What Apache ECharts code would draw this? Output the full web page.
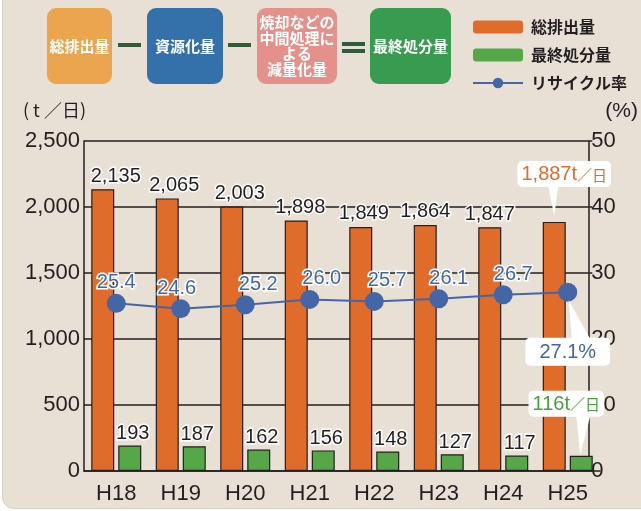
<!DOCTYPE html>
<html>
<head>
<meta charset="utf-8">
<script src="https://cdn.jsdelivr.net/npm/echarts@6/dist/echarts.min.js"></script>
<style>
  html, body { margin: 0; padding: 0; background: #fff; }
  #panel {
    position: absolute; left: 2px; top: -20px; width: 680px; height: 527px;
    background: #e8e0d4; border-radius: 12px; border: 1px solid #d9d0c3;
  }
  #chart { position: absolute; left: 0; top: 0; width: 641px; height: 511px; }
</style>
</head>
<body>
<div id="panel"></div>
<div id="chart"></div>
<script>
// 年度
const categories = ['H18', 'H19', 'H20', 'H21', 'H22', 'H23', 'H24', 'H25']
// 総排出量 (t/日)
const totalEmission = [2135, 2065, 2003, 1898, 1849, 1864, 1847, 1887]
// 最終処分量 (t/日)
const finalDisposal = [193, 187, 162, 156, 148, 127, 117, 116]
// リサイクル率 (%)
const recycleRate = [25.4, 24.6, 25.2, 26.0, 25.7, 26.1, 26.7, 27.1]

// ラベルの横ずれ（px）
const totalLabelDx = [13, 7, 8, 4, 3, 0, 0]
const rateLabelDx = [0, -4, 13, 12, 13, 10, 10]

const NUM_FONT = '"Liberation Sans", Arial, sans-serif'
const JP_FONT = '"Noto Sans CJK JP", sans-serif'
const ORANGE = '#e06c2c'
const GREEN = '#55a748'
const BLUE = '#4466a6'
const INK = '#231f20'
const BAR_W = 23
const BAR_GAP = 4

const last = categories.length - 1
const fmt = (v) => Number(v).toLocaleString('en-US')

const chart = echarts.init(document.getElementById('chart'))

// 吹き出しラベル
function callout(color, text, unit) {
  return {
    show: true,
    backgroundColor: '#fff',
    borderRadius: 5,
    textBorderWidth: 0,
    formatter: unit ? '{a|' + text + '}{b|' + unit + '}' : '{a|' + text + '}',
    rich: {
      a: { color, fontFamily: NUM_FONT, fontSize: 20 },
      b: { color, fontFamily: JP_FONT, fontSize: 15 },
    },
  }
}

const numLabel = {
  show: true,
  fontFamily: NUM_FONT,
  fontSize: 20,
  color: INK,
  textBorderColor: '#fff',
  textBorderWidth: 3,
}

// ヘッダーの式
const boxes = [
  { x: 47, w: 65, fill: '#eba54f', text: '総排出量' },
  { x: 147, w: 76, fill: '#3470aa', text: '資源化量' },
  { x: 257, w: 80, fill: '#e4918b', text: '焼却などの\n中間処理に\nよる\n減量化量' },
  { x: 370, w: 81, fill: '#389b4f', text: '最終処分量' },
]
const header = []
boxes.forEach((b) => {
  header.push({
    type: 'rect',
    shape: { x: b.x, y: 8, width: b.w, height: 76, r: 9 },
    style: { fill: b.fill },
  })
  header.push({
    type: 'text',
    x: b.x + b.w / 2,
    y: 46,
    style: {
      text: b.text,
      fill: '#fff',
      font: 'bold 15px ' + JP_FONT,
      lineHeight: 15.5,
      align: 'center',
      verticalAlign: 'middle',
    },
  })
})
const DASH = '#2c5e3a'
header.push(
  { type: 'rect', shape: { x: 118, y: 43, width: 23, height: 4 }, style: { fill: DASH } },
  { type: 'rect', shape: { x: 228, y: 43, width: 23, height: 4 }, style: { fill: DASH } },
  { type: 'rect', shape: { x: 342, y: 42, width: 23, height: 4 }, style: { fill: DASH } },
  { type: 'rect', shape: { x: 342, y: 49, width: 23, height: 4 }, style: { fill: DASH } }
)

const option = {
  animation: false,
  textStyle: { fontFamily: NUM_FONT },
  legend: {
    orient: 'vertical',
    left: 467,
    top: 14,
    itemWidth: 50,
    itemHeight: 13,
    itemGap: 12,
    itemStyle: { borderWidth: 0 },
    textStyle: { fontFamily: JP_FONT, fontSize: 16, fontWeight: 'bold', color: INK, padding: [0, 0, 0, 3] },
    data: ['総排出量', '最終処分量', 'リサイクル率'],
  },
  grid: [
    { left: 84, right: 41, top: 141, bottom: 40 },
    { left: 84, right: 29, top: 141, bottom: 40 },
  ],
  xAxis: [
    {
      type: 'category',
      gridIndex: 0,
      data: categories,
      axisLine: { lineStyle: { color: INK, width: 1.5 } },
      axisTick: { inside: true, length: 7, lineStyle: { color: INK, width: 1.5 } },
      axisLabel: { fontFamily: NUM_FONT, fontSize: 22, color: INK, margin: 12 },
    },
    { type: 'value', gridIndex: 1, min: 0, max: 1, show: false },
  ],
  yAxis: [
    {
      type: 'value',
      gridIndex: 0,
      min: 0,
      max: 2500,
      interval: 500,
      name: '( t ／日)',
      nameLocation: 'end',
      nameGap: 22,
      nameTextStyle: { fontFamily: JP_FONT, fontSize: 18, color: INK, align: 'right', padding: [0, -2, 0, 0] },
      axisLine: { show: true, onZero: false, lineStyle: { color: INK, width: 1.5 } },
      axisTick: { show: false },
      axisLabel: {
        fontFamily: NUM_FONT,
        fontSize: 22,
        color: INK,
        margin: 4,
        formatter: (v) => fmt(v),
      },
      splitLine: { show: false },
    },
    { type: 'value', gridIndex: 0, min: 0, max: 50, show: false },
    {
      type: 'value',
      gridIndex: 1,
      position: 'right',
      min: 0,
      max: 50,
      interval: 10,
      name: '(%)',
      nameLocation: 'end',
      nameGap: 19,
      nameTextStyle: { fontFamily: NUM_FONT, fontSize: 21, color: INK, align: 'left', padding: [0, 0, 0, 17] },
      axisLine: { show: true, onZero: false, lineStyle: { color: INK, width: 1.5 } },
      axisTick: { show: true, length: 4, lineStyle: { color: INK, width: 1.5 } },
      axisLabel: { fontFamily: NUM_FONT, fontSize: 22, color: INK, margin: 3 },
      splitLine: { show: true, lineStyle: { color: INK, width: 1.5 } },
    },
  ],
  series: [
    {
      name: '総排出量',
      type: 'bar',
      xAxisIndex: 0,
      yAxisIndex: 0,
      barWidth: BAR_W,
      barGap: (BAR_GAP / BAR_W) * 100 + '%',
      itemStyle: { color: ORANGE, borderColor: INK, borderWidth: 1.2 },
      label: { ...numLabel, position: 'top', distance: 3, formatter: (p) => fmt(p.value) },
      data: totalEmission.map((v, i) =>
        i === last
          ? {
              value: v,
              label: { ...callout(ORANGE, fmt(v) + 't', '／日'), position: 'top', distance: 35, offset: [10, 0], padding: [4, 4, 2, 4] },
            }
          : { value: v, label: { offset: [totalLabelDx[i], 0] } }
      ),
    },
    {
      name: '最終処分量',
      type: 'bar',
      xAxisIndex: 0,
      yAxisIndex: 0,
      barWidth: BAR_W,
      itemStyle: { color: GREEN, borderColor: INK, borderWidth: 1.2 },
      label: { ...numLabel, position: 'top', distance: 2, offset: [3, 0], formatter: (p) => fmt(p.value) },
      data: finalDisposal.map((v, i) =>
        i === last
          ? {
              value: v,
              label: { ...callout('#48a03e', v + 't', '／日'), position: 'top', distance: 39, offset: [-15, 0], padding: [4, 4, 2, 4] },
            }
          : v
      ),
    },
    {
      name: 'リサイクル率',
      type: 'line',
      xAxisIndex: 0,
      yAxisIndex: 1,
      symbol: 'circle',
      symbolSize: 19,
      lineStyle: { color: BLUE, width: 2 },
      itemStyle: { color: BLUE },
      label: {
        ...numLabel,
        color: BLUE,
        position: 'top',
        distance: 1,
        formatter: (p) => p.value.toFixed(1),
      },
      data: recycleRate.map((v, i) =>
        i === last
          ? {
              value: v,
              label: { ...callout(BLUE, v.toFixed(1) + '%'), position: 'bottom', distance: 36, offset: [0, 0], padding: [5, 14, 3, 14] },
            }
          : { value: v, label: { offset: [rateLabelDx[i], 0] } }
      ),
      z: 3,
    },
  ],
  graphic: header,
}

chart.setOption(option)

// 吹き出しの三角（データ位置から算出）
const half = BAR_W / 2 + BAR_GAP / 2
const pOrange = chart.convertToPixel({ xAxisIndex: 0, yAxisIndex: 0 }, [last, totalEmission[last]])
const pGreen = chart.convertToPixel({ xAxisIndex: 0, yAxisIndex: 0 }, [last, finalDisposal[last]])
const pRate = chart.convertToPixel({ xAxisIndex: 0, yAxisIndex: 1 }, [last, recycleRate[last]])
const ox = pOrange[0] - half
const gx = pGreen[0] + half
const wedge = (pts) => ({ type: 'polygon', z: 5, shape: { points: pts }, style: { fill: '#fff' } })
chart.setOption({
  graphic: header.concat([
    wedge([[ox, pOrange[1] - 6], [ox - 6, pOrange[1] - 36], [ox + 4, pOrange[1] - 36]]),
    wedge([[gx - 1, pGreen[1] - 1], [gx - 5, pGreen[1] - 40], [gx + 9, pGreen[1] - 40]]),
    wedge([[pRate[0] + 1, pRate[1] + 8], [pRate[0] + 4, pRate[1] + 46], [pRate[0] + 22, pRate[1] + 46]]),
  ]),
})
</script>
</body>
</html>
